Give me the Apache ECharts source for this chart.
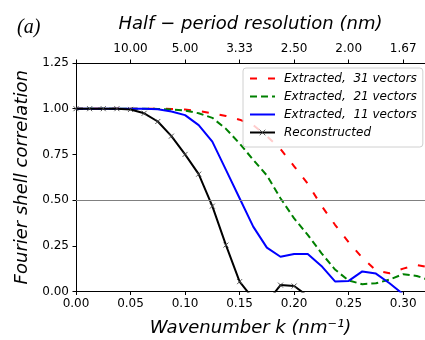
<!DOCTYPE html>
<html><head><meta charset="utf-8">
<script src="https://cdn.jsdelivr.net/npm/echarts@6/dist/echarts.min.js"></script>
<style>html,body{margin:0;padding:0;background:#fff}#c{width:425px;height:340px}</style>
</head><body><div id="c"></div>
<script>
// Wavenumber k (nm^-1)
const k = [0.0000, 0.0125, 0.0250, 0.0375, 0.0500, 0.0625, 0.0750, 0.0875, 0.1000, 0.1125,
           0.1250, 0.1375, 0.1500, 0.1625, 0.1750, 0.1875, 0.2000, 0.2125, 0.2250, 0.2375,
           0.2500, 0.2625, 0.2750, 0.2875, 0.3000, 0.3125, 0.3250];
const extracted31 = [1.000, 1.000, 1.000, 1.000, 1.000, 1.000, 1.000, 0.999, 0.995, 0.988,
                     0.975, 0.960, 0.940, 0.910, 0.850, 0.780, 0.685, 0.590, 0.470, 0.365,
                     0.270, 0.185, 0.115, 0.100, 0.125, 0.145, 0.130];
const extracted21 = [1.000, 1.000, 1.000, 1.000, 1.000, 1.000, 0.999, 0.996, 0.990, 0.975,
                     0.950, 0.890, 0.810, 0.720, 0.635, 0.510, 0.400, 0.310, 0.210, 0.120,
                     0.060, 0.040, 0.045, 0.065, 0.095, 0.085, 0.060];
const extracted11 = [1.000, 1.000, 1.000, 1.000, 1.000, 1.000, 0.997, 0.985, 0.965, 0.910,
                     0.820, 0.665, 0.510, 0.355, 0.240, 0.190, 0.205, 0.205, 0.140, 0.055,
                     0.058, 0.110, 0.098, 0.045, -0.015, -0.050, -0.060];
const reconstructed = [1.000, 1.000, 1.000, 1.000, 0.996, 0.975, 0.930, 0.850, 0.750, 0.642,
                       0.467, 0.254, 0.054, -0.040, -0.060, 0.035, 0.030, -0.025, -0.050, -0.080,
                       -0.040, -0.060, -0.030, -0.070, -0.050, -0.040, -0.060];
const seriesNames = ['Extracted,  31 vectors', 'Extracted,  21 vectors', 'Extracted,  11 vectors', 'Reconstructed'];
const bottomTickLabels = ['0.00', '0.05', '0.10', '0.15', '0.20', '0.25', '0.30'];
const topTickLabels = ['10.00', '5.00', '3.33', '2.50', '2.00', '1.67'];
const yTickLabels = ['0.00', '0.25', '0.50', '0.75', '1.00', '1.25'];
const thresholdValue = 0.5;

const FONT = 'DejaVu Sans';
const pts = arr => k.map((x, i) => [x, arr[i]]);
const axisBase = {
  axisLine: {show: true, lineStyle: {color: '#000', width: 1}},
  axisTick: {show: true, inside: false, length: 3.5, lineStyle: {color: '#000', width: 1}},
  splitLine: {show: false},
  nameTextStyle: {fontFamily: FONT, fontStyle: 'italic', fontSize: 18, color: '#000'}
};
const labelBase = {fontFamily: FONT, fontSize: 12, color: '#000'};
const noSym = {color: 'transparent', borderWidth: 0, borderColor: 'transparent'};

const chart = echarts.init(document.getElementById('c'), null, {renderer: 'canvas'});
chart.setOption({
  animation: false,
  backgroundColor: '#fff',
  title: {text: '(a)', left: 12, top: 13,
    textStyle: {fontFamily: 'Liberation Serif', fontStyle: 'italic', fontWeight: 'normal', fontSize: 20, color: '#000'}},
  grid: {left: 76, top: 63, right: 0, bottom: 48.5, containLabel: false, outerBoundsMode: 'none'},
  legend: {
    data: [
      {name: seriesNames[0], itemStyle: noSym},
      {name: seriesNames[1], itemStyle: noSym},
      {name: seriesNames[2], itemStyle: noSym},
      {name: seriesNames[3], itemStyle: {color: '#000', borderColor: '#444', borderWidth: 0.9}}
    ],
    orient: 'vertical', left: 243, top: 68,
    itemWidth: 25, itemHeight: 7, itemGap: 5, padding: [4, 6, 8, 6],
    backgroundColor: 'rgba(255,255,255,0.8)', borderColor: '#d0d0d0', borderWidth: 1, borderRadius: 3,
    textStyle: {fontFamily: FONT, fontStyle: 'italic', fontSize: 12, color: '#000', padding: [0, 0, 0, 4], lineHeight: 13},
    selectedMode: false
  },
  xAxis: [
    Object.assign({}, axisBase, {
      type: 'value', position: 'bottom', min: 0, max: 0.32, interval: 0.05,
      name: 'Wavenumber k (nm\u207B\u00B9)', nameLocation: 'middle', nameGap: 28,
      axisLabel: Object.assign({}, labelBase, {margin: 6, showMaxLabel: false,
        formatter: v => bottomTickLabels[Math.round(v / 0.05)] || ''})
    }),
    Object.assign({}, axisBase, {
      type: 'value', position: 'top', min: 0, max: 0.32, interval: 0.05,
      name: 'Half \u2212 period resolution (nm)', nameLocation: 'middle', nameGap: 30,
      axisLabel: Object.assign({}, labelBase, {margin: 8, showMaxLabel: false,
        formatter: v => topTickLabels[Math.round(v / 0.05) - 1] || ''})
    })
  ],
  yAxis: Object.assign({}, axisBase, {
    type: 'value', min: 0, max: 1.25, interval: 0.25,
    name: 'Fourier shell correlation', nameLocation: 'middle', nameGap: 44,
    axisLabel: Object.assign({}, labelBase, {margin: 7,
      formatter: v => yTickLabels[Math.round(v / 0.25)] || ''})
  }),
  series: [
    {name: seriesNames[0], type: 'line', data: pts(extracted31), symbol: 'none', clip: true,
     lineStyle: {color: '#ff0000', width: 2, type: [7, 11]}, itemStyle: {color: '#ff0000'},
     emphasis: {disabled: true},
     markLine: {silent: true, symbol: ['none', 'none'], label: {show: false},
       lineStyle: {color: '#808080', width: 1.2, type: 'solid'}, data: [{yAxis: thresholdValue}]}},
    {name: seriesNames[1], type: 'line', data: pts(extracted21), symbol: 'none', clip: true,
     lineStyle: {color: '#008000', width: 2, type: [7, 4]}, itemStyle: {color: '#008000'},
     emphasis: {disabled: true}},
    {name: seriesNames[2], type: 'line', data: pts(extracted11), symbol: 'none', clip: true,
     lineStyle: {color: '#0000ff', width: 2, type: 'solid'}, itemStyle: {color: '#0000ff'},
     emphasis: {disabled: true}},
    {name: seriesNames[3], type: 'line', data: pts(reconstructed), clip: true,
     symbol: 'path://M0,0L10,10M0,10L10,0', symbolSize: 5, showSymbol: true,
     lineStyle: {color: '#000', width: 2, type: 'solid'},
     itemStyle: {color: '#000', borderColor: '#444', borderWidth: 0.9},
     emphasis: {disabled: true}}
  ]
});
</script></body></html>
